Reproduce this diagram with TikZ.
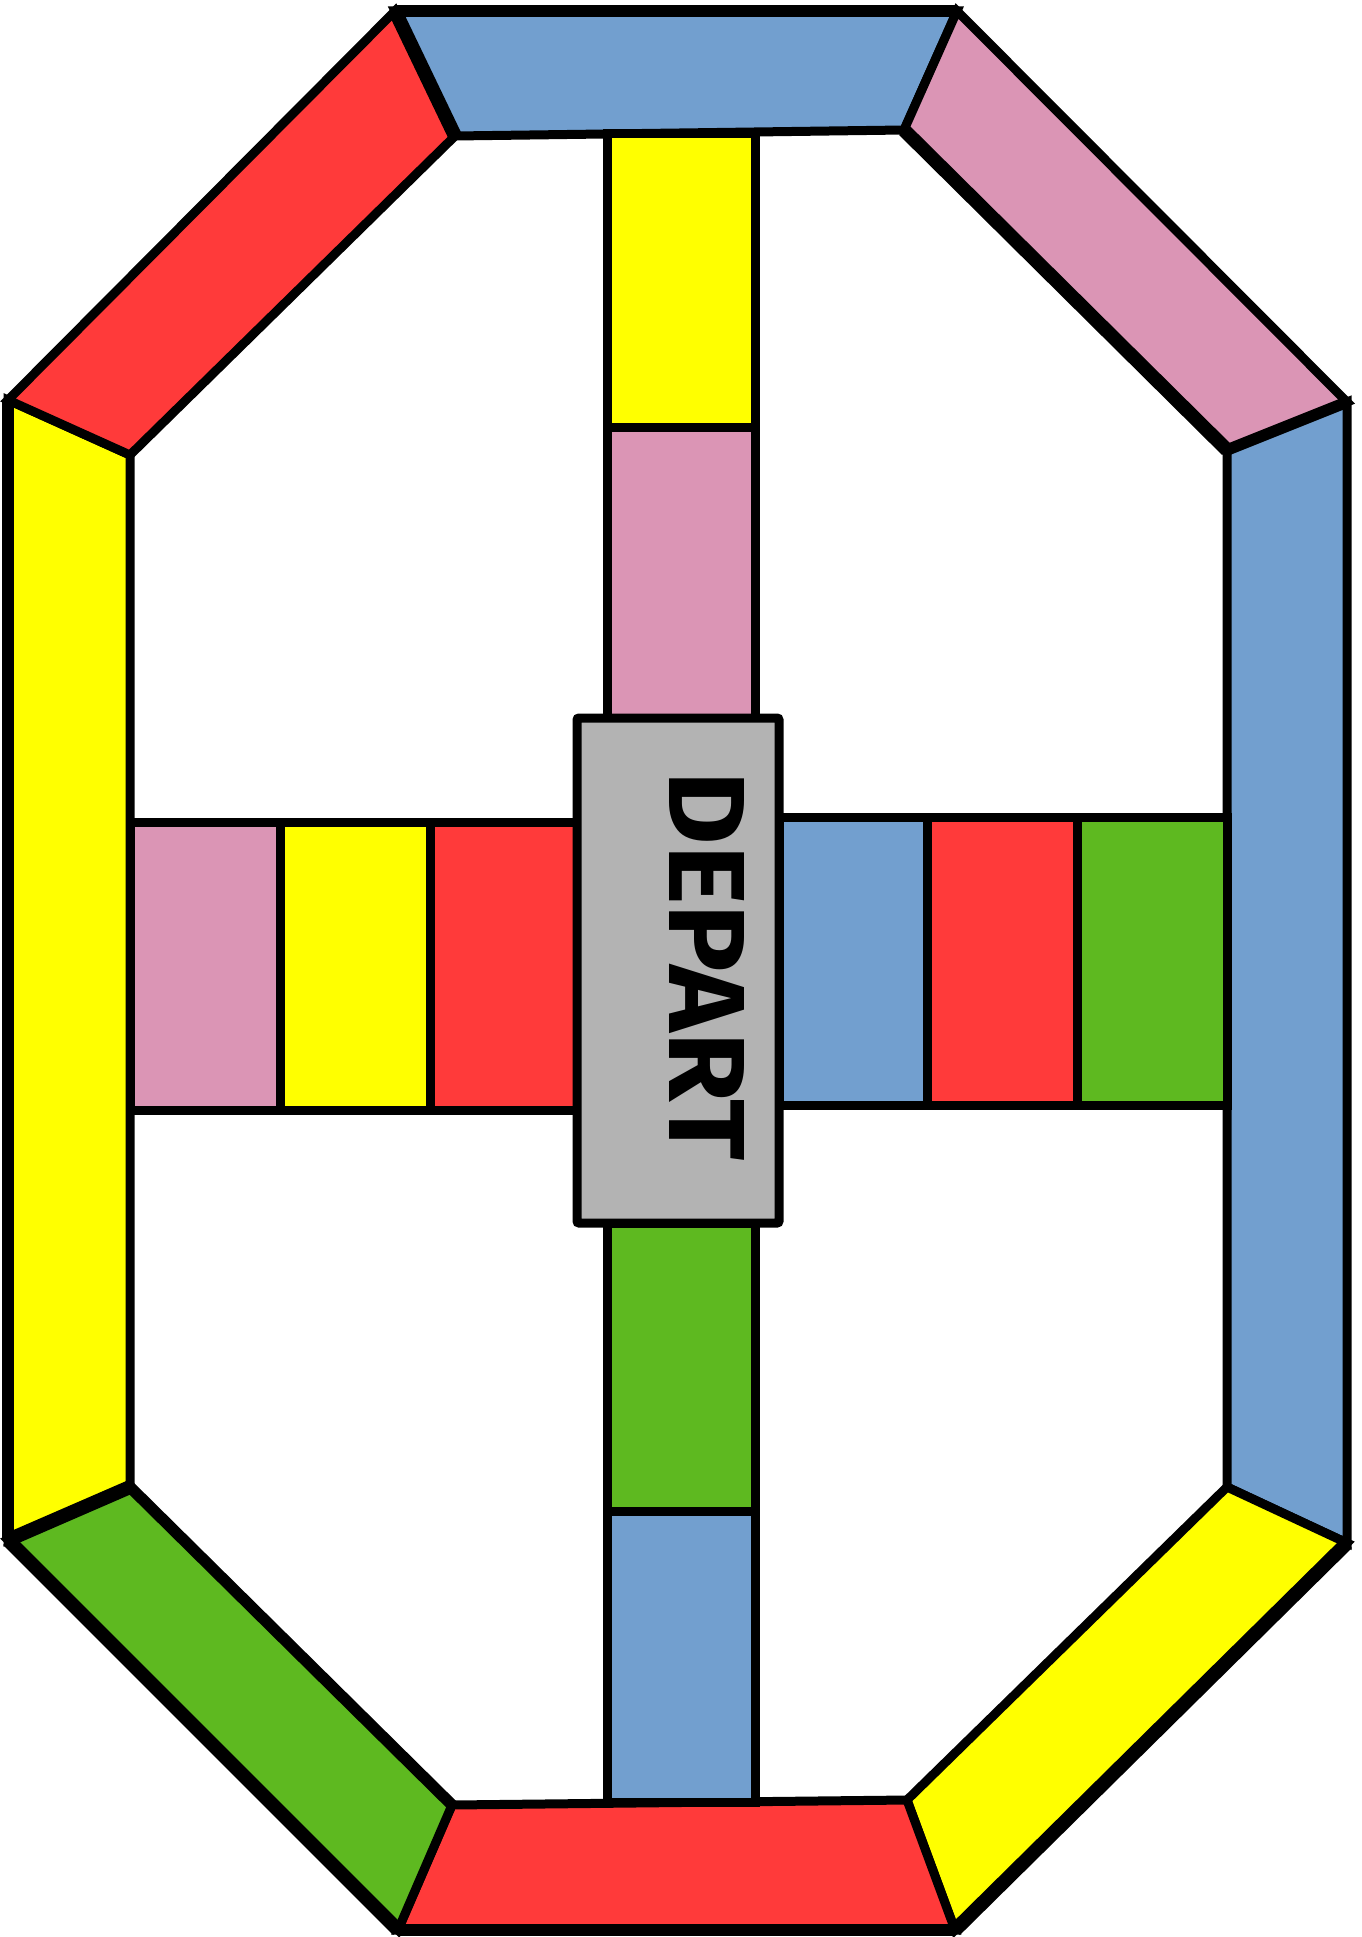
\documentclass[tikz,border=0pt]{standalone}
\usepackage{fontspec}
\newfontfamily\departfont{Fira Sans}
\definecolor{rred}{RGB}{255,58,58}
\definecolor{rblue}{RGB}{114,159,207}
\definecolor{rpink}{RGB}{219,149,181}
\definecolor{ryellow}{RGB}{255,255,0}
\definecolor{rgreen}{RGB}{94,185,32}
\definecolor{rgray}{RGB}{179,179,179}
\begin{document}
\begin{tikzpicture}[x=1pt,y=-1pt,line join=miter,
  seg/.style={draw=black,line width=9pt},
  cell/.style={draw=black,line width=9pt},
  heavy/.style={draw=black,line width=14pt},
  medium/.style={draw=black,line width=11.5pt}]
\fill[white] (0,0) rectangle (1361,1937);
\path[use as bounding box] (0,0) rectangle (1361,1937);
% outer octagon
\coordinate (O1) at (395,11);
\coordinate (O2) at (957,11);
\coordinate (O3) at (1347,402);
\coordinate (O4) at (1347,1543);
\coordinate (O5) at (955,1930);
\coordinate (O6) at (398,1930);
\coordinate (O7) at (8,1540);
\coordinate (O8) at (8,400);
% inner octagon
\coordinate (I1) at (455,136);
\coordinate (I2) at (904,130);
\coordinate (I3) at (1227,450);
\coordinate (I4) at (1227,1487);
\coordinate (I5) at (907,1800);
\coordinate (I6) at (452,1805);
\coordinate (I7) at (130,1487);
\coordinate (I8) at (130,455);
% ring segments
\filldraw[seg,fill=rblue]   (O1) -- (O2) -- (I2) -- (I1) -- cycle;
\filldraw[seg,fill=rpink]   (O2) -- (O3) -- (I3) -- (I2) -- cycle;
\filldraw[seg,fill=rblue]   (O3) -- (O4) -- (I4) -- (I3) -- cycle;
\filldraw[seg,fill=ryellow] (O4) -- (O5) -- (I5) -- (I4) -- cycle;
\filldraw[seg,fill=rred]    (O5) -- (O6) -- (I6) -- (I5) -- cycle;
\filldraw[seg,fill=rgreen]  (O6) -- (O7) -- (I7) -- (I6) -- cycle;
\filldraw[seg,fill=ryellow] (O7) -- (O8) -- (I8) -- (I7) -- cycle;
\filldraw[seg,fill=rred]    (O8) -- (O1) -- (I1) -- (I8) -- cycle;
% heavier edges
\draw[heavy] (O1) -- (I1);
\draw[heavy] (I2) -- (I3);
\draw[medium] (O3) -- (I3);
\draw[heavy] (O6) -- (O7);
\draw[heavy] (O7) -- (I7);
\draw[medium] (I7) -- (I6);
\draw[heavy] (O4) -- (O5);
\draw[medium] (O5) -- (O6);
\draw[medium] (O1) -- (O2);
\draw[medium] (O8) -- (O7);
% upper vertical strip
\filldraw[cell,fill=ryellow] (607.5,134) rectangle (755.5,427.5);
\filldraw[cell,fill=rpink]   (607.5,427.5) rectangle (755.5,718);
% lower vertical strip
\filldraw[cell,fill=rgreen]  (607.5,1223) rectangle (755.5,1511);
\filldraw[cell,fill=rblue]   (607.5,1511) rectangle (755.5,1802);
% left strip
\filldraw[cell,fill=rpink]   (130,822) rectangle (280,1110);
\filldraw[cell,fill=ryellow] (280,822) rectangle (430,1110);
\filldraw[cell,fill=rred]    (430,822) rectangle (577,1110);
% right strip
\filldraw[cell,fill=rblue]   (779,817) rectangle (927.5,1105);
\filldraw[cell,fill=rred]    (927.5,817) rectangle (1077,1105);
\filldraw[cell,fill=rgreen]  (1077,817) rectangle (1227,1105);
% start box
\filldraw[cell,fill=rgray,rounded corners=2pt] (577,718) rectangle (779,1223);
\node[rotate=-90,inner sep=0pt] (depart) at (707,966)
  {\resizebox{389pt}{75pt}{\departfont\bfseries DEPART}};
\end{tikzpicture}
\end{document}
